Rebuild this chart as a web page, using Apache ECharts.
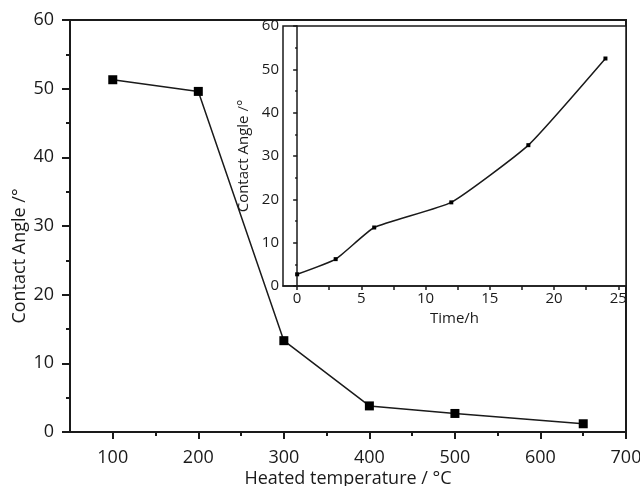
<!DOCTYPE html>
<html>
<head>
<meta charset="utf-8">
<script src="https://cdn.jsdelivr.net/npm/echarts@6/dist/echarts.min.js"></script>
<style>html,body{margin:0;padding:0;background:#fff}#c{width:640px;height:486px}</style>
</head>
<body>
<div id="c"></div>
<script>
// Main chart data
var mainTemps = [100, 200, 300, 400, 500, 650];
var mainAngles = [51.3, 49.6, 13.3, 3.8, 2.7, 1.2];
var mainXLabels = [100, 200, 300, 400, 500, 600, 700];
var mainXMinorTicks = [150, 250, 350, 450, 550, 650];
// Inset data
var insetTimes = [0, 3, 6, 12, 18, 24];
var insetAngles = [2.7, 6.2, 13.5, 19.3, 32.5, 52.5];
var insetXLabels = [0, 5, 10, 15, 20, 25];
var insetXTicks = [0, 2.5, 5, 7.5, 10, 12.5, 15, 17.5, 20, 22.5, 25];

var FONT = '"Open Sans", "Noto Sans", sans-serif';
var C = '#1a1a1a';

function pairs(xs, ys) { return xs.map(function (x, i) { return [x, ys[i]]; }); }

var chart = echarts.init(document.getElementById('c'), null, {renderer: 'canvas'});
chart.setOption({
  animation: false,
  backgroundColor: '#fff',
  grid: [
    {left: 70, top: 20, right: 14, bottom: 54, show: true, borderColor: C, borderWidth: 2, backgroundColor: 'transparent', z: 0, containLabel: false, outerBoundsMode: 'none'},
    {left: 283, top: 26, right: 14, bottom: 200, show: true, borderColor: C, borderWidth: 1.5, backgroundColor: '#fff', z: 5, containLabel: false, outerBoundsMode: 'none'}
  ],
  xAxis: [
    {gridIndex: 0, type: 'value', min: 50, max: 700,
      name: 'Heated temperature / °C', nameLocation: 'middle', nameGap: 38, nameMoveOverlap: false,
      nameTextStyle: {fontFamily: FONT, fontSize: 18, color: C},
      axisLine: {lineStyle: {color: C, width: 2}},
      axisTick: {show: true, inside: false, length: 7, lineStyle: {color: C, width: 2}, customValues: mainXLabels},
      axisLabel: {fontFamily: FONT, fontSize: 18, color: C, margin: 17, customValues: mainXLabels},
      splitLine: {show: false}},
    {gridIndex: 0, type: 'value', min: 50, max: 700, position: 'bottom',
      axisLine: {show: false},
      axisTick: {show: true, length: 4, lineStyle: {color: C, width: 2}, customValues: mainXMinorTicks},
      axisLabel: {show: false}, splitLine: {show: false}},
    {gridIndex: 1, type: 'value', min: -1.1, max: 25.6,
      name: 'Time/h', nameLocation: 'middle', nameGap: 23,
      nameTextStyle: {fontFamily: FONT, fontSize: 15, color: C},
      axisLine: {lineStyle: {color: C, width: 1.5}},
      axisTick: {show: true, length: 4, lineStyle: {color: C, width: 1.5}, customValues: insetXTicks},
      axisLabel: {fontFamily: FONT, fontSize: 15, color: C, margin: 5, customValues: insetXLabels},
      splitLine: {show: false}, z: 6}
  ],
  yAxis: [
    {gridIndex: 0, type: 'value', min: 0, max: 60, interval: 10,
      name: 'Contact Angle /°', nameLocation: 'middle', nameGap: 41, nameMoveOverlap: false,
      nameTextStyle: {fontFamily: FONT, fontSize: 18, color: C, padding: [0, 60, 0, 0]},
      axisLine: {show: true, lineStyle: {color: C, width: 2}},
      axisTick: {show: true, length: 8, lineStyle: {color: C, width: 2}},
      minorTick: {show: true, splitNumber: 2, length: 4, lineStyle: {color: C, width: 2}},
      axisLabel: {fontFamily: FONT, fontSize: 18, color: C, margin: 16},
      splitLine: {show: false}},
    {gridIndex: 1, type: 'value', min: 0, max: 60, interval: 10,
      name: 'Contact Angle /°', nameLocation: 'middle', nameGap: 23,
      nameTextStyle: {fontFamily: FONT, fontSize: 15, color: C},
      axisLine: {show: true, lineStyle: {color: C, width: 1.5}},
      axisTick: {show: true, length: 4, lineStyle: {color: C, width: 1.5}},
      minorTick: {show: true, splitNumber: 2, length: 2, lineStyle: {color: C, width: 1.5}},
      axisLabel: {fontFamily: FONT, fontSize: 15, color: C, margin: 4},
      splitLine: {show: false}, z: 6}
  ],
  series: [
    {type: 'line', xAxisIndex: 0, yAxisIndex: 0, data: pairs(mainTemps, mainAngles),
      symbol: 'rect', symbolSize: 9, itemStyle: {color: '#000'},
      lineStyle: {color: C, width: 1.5}, z: 2},
    {type: 'line', xAxisIndex: 2, yAxisIndex: 1, data: pairs(insetTimes, insetAngles),
      symbol: 'rect', symbolSize: 4, smooth: 0.15, itemStyle: {color: '#000'},
      lineStyle: {color: C, width: 1.5}, z: 7}
  ]
});
</script>
</body>
</html>
